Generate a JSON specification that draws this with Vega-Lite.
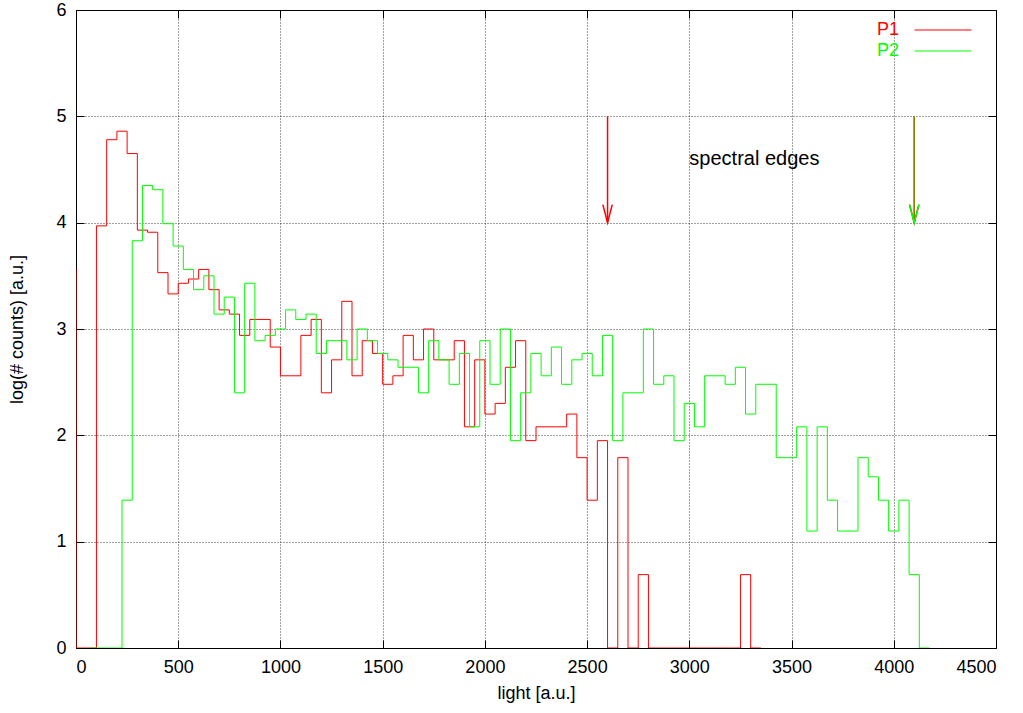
{
  "$schema": "https://vega.github.io/schema/vega-lite/v6.json",
  "width": 920,
  "height": 638,
  "autosize": {"type": "none"},
  "padding": {"left": 76, "top": 10, "right": 27, "bottom": 65},
  "background": "#ffffff",
  "datasets": {
    "hist": [
      {"s":"P1","x":-50,"y":3.56},{"s":"P1","x":0,"y":0},{"s":"P1","x":50,"y":0},{"s":"P1","x":100,"y":3.97},{"s":"P1","x":150,"y":4.78},{"s":"P1","x":200,"y":4.86},{"s":"P1","x":250,"y":4.65},{"s":"P1","x":300,"y":3.93},{"s":"P1","x":350,"y":3.91},{"s":"P1","x":400,"y":3.53},{"s":"P1","x":450,"y":3.33},{"s":"P1","x":500,"y":3.43},{"s":"P1","x":550,"y":3.47},{"s":"P1","x":600,"y":3.56},{"s":"P1","x":650,"y":3.37},{"s":"P1","x":700,"y":3.18},{"s":"P1","x":750,"y":3.14},{"s":"P1","x":800,"y":2.94},{"s":"P1","x":850,"y":3.09},{"s":"P1","x":900,"y":3.09},{"s":"P1","x":950,"y":2.83},{"s":"P1","x":1000,"y":2.56},{"s":"P1","x":1050,"y":2.56},{"s":"P1","x":1100,"y":2.94},{"s":"P1","x":1150,"y":3.09},{"s":"P1","x":1200,"y":2.40},{"s":"P1","x":1250,"y":2.71},{"s":"P1","x":1300,"y":3.26},{"s":"P1","x":1350,"y":2.56},{"s":"P1","x":1400,"y":2.89},{"s":"P1","x":1450,"y":2.77},{"s":"P1","x":1500,"y":2.48},{"s":"P1","x":1550,"y":2.56},{"s":"P1","x":1600,"y":2.94},{"s":"P1","x":1650,"y":2.71},{"s":"P1","x":1700,"y":3.00},{"s":"P1","x":1750,"y":2.71},{"s":"P1","x":1800,"y":2.71},{"s":"P1","x":1850,"y":2.89},{"s":"P1","x":1900,"y":2.08},{"s":"P1","x":1950,"y":2.71},{"s":"P1","x":2000,"y":2.20},{"s":"P1","x":2050,"y":2.30},{"s":"P1","x":2100,"y":2.64},{"s":"P1","x":2150,"y":2.89},{"s":"P1","x":2200,"y":1.95},{"s":"P1","x":2250,"y":2.08},{"s":"P1","x":2300,"y":2.08},{"s":"P1","x":2350,"y":2.08},{"s":"P1","x":2400,"y":2.20},{"s":"P1","x":2450,"y":1.79},{"s":"P1","x":2500,"y":1.39},{"s":"P1","x":2550,"y":1.95},{"s":"P1","x":2600,"y":0},{"s":"P1","x":2650,"y":1.79},{"s":"P1","x":2700,"y":0},{"s":"P1","x":2750,"y":0.69},{"s":"P1","x":2800,"y":0},{"s":"P1","x":2850,"y":0},{"s":"P1","x":2900,"y":0},{"s":"P1","x":2950,"y":0},{"s":"P1","x":3000,"y":0},{"s":"P1","x":3050,"y":0},{"s":"P1","x":3100,"y":0},{"s":"P1","x":3150,"y":0},{"s":"P1","x":3200,"y":0},{"s":"P1","x":3250,"y":0.69},{"s":"P1","x":3300,"y":0},{"s":"P1","x":3350,"y":0},
      {"s":"P2","x":75,"y":0},{"s":"P2","x":125,"y":0},{"s":"P2","x":175,"y":0},{"s":"P2","x":225,"y":1.39},{"s":"P2","x":275,"y":3.83},{"s":"P2","x":325,"y":4.35},{"s":"P2","x":375,"y":4.31},{"s":"P2","x":425,"y":3.99},{"s":"P2","x":475,"y":3.78},{"s":"P2","x":525,"y":3.56},{"s":"P2","x":575,"y":3.37},{"s":"P2","x":625,"y":3.50},{"s":"P2","x":675,"y":3.14},{"s":"P2","x":725,"y":3.30},{"s":"P2","x":775,"y":2.40},{"s":"P2","x":825,"y":3.43},{"s":"P2","x":875,"y":2.89},{"s":"P2","x":925,"y":2.94},{"s":"P2","x":975,"y":3.00},{"s":"P2","x":1025,"y":3.18},{"s":"P2","x":1075,"y":3.09},{"s":"P2","x":1125,"y":3.14},{"s":"P2","x":1175,"y":2.77},{"s":"P2","x":1225,"y":2.89},{"s":"P2","x":1275,"y":2.89},{"s":"P2","x":1325,"y":2.71},{"s":"P2","x":1375,"y":3.00},{"s":"P2","x":1425,"y":2.89},{"s":"P2","x":1475,"y":2.77},{"s":"P2","x":1525,"y":2.71},{"s":"P2","x":1575,"y":2.64},{"s":"P2","x":1625,"y":2.64},{"s":"P2","x":1675,"y":2.40},{"s":"P2","x":1725,"y":2.89},{"s":"P2","x":1775,"y":2.71},{"s":"P2","x":1825,"y":2.48},{"s":"P2","x":1875,"y":2.77},{"s":"P2","x":1925,"y":2.08},{"s":"P2","x":1975,"y":2.89},{"s":"P2","x":2025,"y":2.48},{"s":"P2","x":2075,"y":3.00},{"s":"P2","x":2125,"y":1.95},{"s":"P2","x":2175,"y":2.40},{"s":"P2","x":2225,"y":2.77},{"s":"P2","x":2275,"y":2.56},{"s":"P2","x":2325,"y":2.83},{"s":"P2","x":2375,"y":2.48},{"s":"P2","x":2425,"y":2.71},{"s":"P2","x":2475,"y":2.77},{"s":"P2","x":2525,"y":2.56},{"s":"P2","x":2575,"y":2.94},{"s":"P2","x":2625,"y":1.95},{"s":"P2","x":2675,"y":2.40},{"s":"P2","x":2725,"y":2.40},{"s":"P2","x":2775,"y":3.00},{"s":"P2","x":2825,"y":2.48},{"s":"P2","x":2875,"y":2.56},{"s":"P2","x":2925,"y":1.95},{"s":"P2","x":2975,"y":2.30},{"s":"P2","x":3025,"y":2.08},{"s":"P2","x":3075,"y":2.56},{"s":"P2","x":3125,"y":2.56},{"s":"P2","x":3175,"y":2.48},{"s":"P2","x":3225,"y":2.64},{"s":"P2","x":3275,"y":2.20},{"s":"P2","x":3325,"y":2.48},{"s":"P2","x":3375,"y":2.48},{"s":"P2","x":3425,"y":1.79},{"s":"P2","x":3475,"y":1.79},{"s":"P2","x":3525,"y":2.08},{"s":"P2","x":3575,"y":1.10},{"s":"P2","x":3625,"y":2.08},{"s":"P2","x":3675,"y":1.39},{"s":"P2","x":3725,"y":1.10},{"s":"P2","x":3775,"y":1.10},{"s":"P2","x":3825,"y":1.79},{"s":"P2","x":3875,"y":1.61},{"s":"P2","x":3925,"y":1.39},{"s":"P2","x":3975,"y":1.10},{"s":"P2","x":4025,"y":1.39},{"s":"P2","x":4075,"y":0.69},{"s":"P2","x":4125,"y":0},{"s":"P2","x":4175,"y":0}
    ],
    "arrows": [
      {"s":"P1","x":2600,"y":5,"y2":4},
      {"s":"P1","x":4100,"y":5,"y2":4},
      {"s":"P2","x":4100,"y":5,"y2":4}
    ],
    "labels": [
      {"t":"spectral edges","x":3000,"y":4.6}
    ]
  },
  "layer": [
    {
      "data": {"name": "hist"},
      "mark": {"type": "line", "interpolate": "step-after", "strokeWidth": 1, "clip": true},
      "encoding": {
        "x": {"field": "x", "type": "quantitative", "scale": {"domain": [0, 4500], "nice": false, "zero": false},
          "axis": {"orient": "bottom", "title": "light [a.u.]", "format": "d", "values": [0,500,1000,1500,2000,2500,3000,3500,4000,4500], "grid": true, "domain": false, "titlePadding": 8}},
        "y": {"field": "y", "type": "quantitative", "scale": {"domain": [0, 6], "nice": false},
          "axis": {"orient": "left", "title": "log(# counts) [a.u.]", "format": "d", "values": [0,1,2,3,4,5,6], "grid": true, "domain": false, "titlePadding": 29}},
        "color": {"field": "s", "type": "nominal",
          "scale": {"domain": ["P1", "P2"], "range": ["#ff0000", "#00ff00"]},
          "legend": {"orient": "none", "legendX": 838, "legendY": 11, "direction": "vertical", "title": null,
            "symbolType": "M-5.7,0L5.7,0", "symbolSize": 100, "symbolStrokeWidth": 1, "symbolOffset": 20, "rowPadding": 3,
            "labelAlign": "right", "labelOffset": -53, "labelFontSize": 18, "labelFont": "Liberation Sans", "padding": 0,
            "encode": {"labels": {"update": {"fill": {"signal": "scale('color', datum.value)"}}}}}}
      }
    },
    {
      "data": {"name": "arrows"},
      "transform": [{"filter": "datum.s == 'P1'"}],
      "layer": [
        {"mark": {"type": "rule", "color": "#ff0000", "strokeWidth": 1.5},
         "encoding": {"x": {"field": "x", "type": "quantitative", "axis": null}, "y": {"field": "y", "type": "quantitative", "axis": null}, "y2": {"field": "y2"}}},
        {"mark": {"type": "point", "shape": "M-0.52,-2L0,0L0.52,-2", "size": 324, "filled": false, "color": "#ff0000", "strokeWidth": 1.5, "opacity": 1},
         "encoding": {"x": {"field": "x", "type": "quantitative", "axis": null}, "y": {"field": "y2", "type": "quantitative", "axis": null}}}
      ]
    },
    {
      "data": {"name": "arrows"},
      "transform": [{"filter": "datum.s == 'P2'"}],
      "layer": [
        {"mark": {"type": "rule", "color": "#00ff00", "strokeWidth": 1.5, "opacity": 0.5},
         "encoding": {"x": {"field": "x", "type": "quantitative", "axis": null}, "y": {"field": "y", "type": "quantitative", "axis": null}, "y2": {"field": "y2"}}},
        {"mark": {"type": "point", "shape": "M-0.52,-2L0,0L0.52,-2", "size": 324, "filled": false, "color": "#00ff00", "strokeWidth": 1.5, "opacity": 1},
         "encoding": {"x": {"field": "x", "type": "quantitative", "axis": null}, "y": {"field": "y2", "type": "quantitative", "axis": null}}}
      ]
    },
    {
      "data": {"name": "labels"},
      "mark": {"type": "text", "align": "left", "baseline": "middle", "fontSize": 20, "font": "Liberation Sans", "color": "#000000"},
      "encoding": {
        "x": {"field": "x", "type": "quantitative", "axis": null},
        "y": {"field": "y", "type": "quantitative", "axis": null},
        "text": {"field": "t"}
      }
    },
    {
      "data": {"name": "labels"},
      "mark": {"type": "point", "opacity": 0},
      "encoding": {
        "x": {"field": "x", "type": "quantitative",
          "axis": {"orient": "top", "title": null, "labels": false, "grid": false, "domain": false, "values": [0,500,1000,1500,2000,2500,3000,3500,4000,4500]}},
        "y": {"field": "y", "type": "quantitative",
          "axis": {"orient": "right", "title": null, "labels": false, "grid": false, "domain": false, "values": [0,1,2,3,4,5,6]}}
      }
    }
  ],
  "resolve": {"axis": {"x": "independent", "y": "independent"}},
  "config": {
    "font": "Liberation Sans",
    "view": {"stroke": "#000000", "strokeWidth": 1},
    "axis": {
      "labelFont": "Liberation Sans", "titleFont": "Liberation Sans",
      "labelFontSize": 18, "titleFontSize": 18, "titleFontWeight": "normal",
      "labelColor": "#000000", "titleColor": "#000000",
      "tickColor": "#000000", "tickWidth": 1, "tickSize": -8, "labelPadding": 18,
      "gridColor": "#000000", "gridDash": [1, 2], "gridOpacity": 0.75, "gridWidth": 1
    }
  }
}
